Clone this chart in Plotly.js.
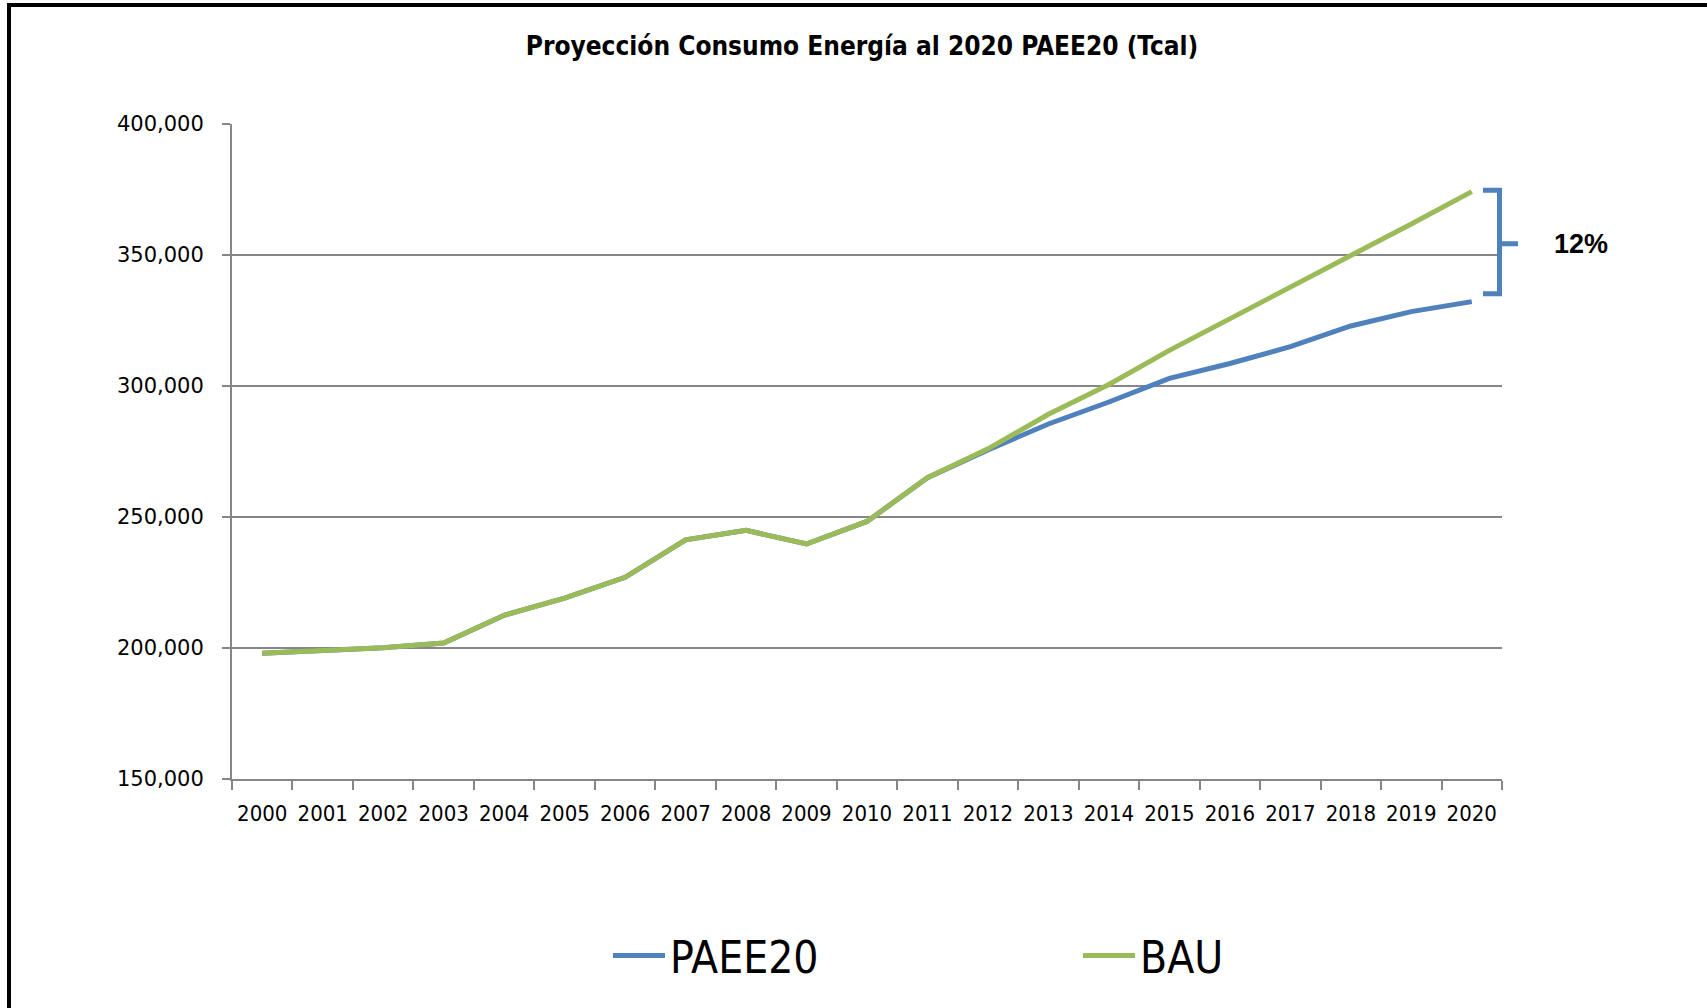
<!DOCTYPE html>
<html>
<head>
<meta charset="utf-8">
<script src="https://cdn.plot.ly/plotly-3.0.1.min.js"></script>
<style>
  html, body { margin: 0; padding: 0; background: #ffffff; }
  #wrap { position: relative; width: 1707px; height: 1008px; overflow: hidden; }
  #chart { position: absolute; left: 0; top: 0; width: 1707px; height: 1008px; }
  #frame { position: absolute; left: 7px; top: 3px; right: -10px; bottom: -10px;
           border-top: 4px solid #000; border-left: 4px solid #000; pointer-events: none; }
</style>
</head>
<body>
<div id="wrap">
  <div id="chart"></div>
  <div id="frame"></div>
</div>
<script>
// ---- data (Tcal) ----
const years = ["2000","2001","2002","2003","2004","2005","2006","2007","2008","2009","2010",
               "2011","2012","2013","2014","2015","2016","2017","2018","2019","2020"];
const paee20 = [198000,198900,200100,201900,212500,219000,227000,241300,244900,239700,248300,
                265000,275600,285500,293900,302900,308600,315000,322900,328400,332200];
const bau    = [198000,198900,200100,201900,212500,219000,227000,241300,244900,239700,248300,
                265000,276000,289200,300600,313600,325500,337500,349800,361800,374200];
const seriesNames = ["PAEE20", "BAU"];
const chartTitle = "Proyección Consumo Energía al 2020 PAEE20 (Tcal)";
const gapLabel = "12%";

const BLUE = "#4F81BD", GREEN = "#9BBB59", GRID = "#868686";
const NARROW = "'Liberation Sans Narrow', 'DejaVu Sans Condensed', 'Arial Narrow', sans-serif";

const traces = [
  { x: years, y: paee20, name: seriesNames[0], type: "scatter", mode: "lines",
    line: { color: BLUE, width: 5 } },
  { x: years, y: bau, name: seriesNames[1], type: "scatter", mode: "lines",
    line: { color: GREEN, width: 5 } }
];

const W = 1707, H = 1008;
const L = 232, R = 1502, T = 124, B = 779;
const px = v => (v - L) / (R - L);           // pixel -> paper x

const last = years.length - 1;
const bTop = bau[last] + 500, bBot = paee20[last] + 3000, bMid = (bTop + bBot) / 2 - 700;
const bracketPath = `M${px(1483)},${bTop} L${px(1499.5)},${bTop} L${px(1499.5)},${bBot} L${px(1483)},${bBot} ` +
                    `M${px(1499.5)},${bMid} L${px(1518)},${bMid}`;

const layout = {
  width: W, height: H,
  margin: { l: L, r: W - R, t: T, b: H - B, pad: 0 },
  paper_bgcolor: "#ffffff", plot_bgcolor: "#ffffff",
  showlegend: true,
  title: {
    text: chartTitle,
    font: { family: NARROW, size: 26, color: "#000", weight: "bold" },
    xref: "container", x: 862 / W, xanchor: "center",
    yref: "container", y: 1 - 46 / H, yanchor: "middle"
  },
  xaxis: {
    type: "category", range: [-0.5, 20.5],
    showline: true, linecolor: GRID, linewidth: 2,
    showgrid: false, zeroline: false,
    ticks: "outside", tickson: "boundaries", ticklen: 9, tickwidth: 2, tickcolor: GRID,
    tickangle: 0, ticklabelstandoff: 14,
    tickfont: { family: NARROW, size: 22, color: "#000" }
  },
  yaxis: {
    range: [150000, 400000], dtick: 50000, tick0: 150000, tickformat: ",d",
    showline: true, linecolor: GRID, linewidth: 2,
    showgrid: true, gridcolor: GRID, gridwidth: 2, zeroline: false,
    ticks: "outside", ticklen: 8, tickwidth: 2, tickcolor: GRID,
    ticklabelstandoff: 14,
    tickfont: { family: "'DejaVu Sans', Verdana, sans-serif", size: 21, color: "#000" }
  },
  legend: {
    orientation: "h",
    xref: "container", x: 608 / W, xanchor: "left",
    yref: "container", y: 1 - 956 / H, yanchor: "middle",
    bgcolor: "rgba(0,0,0,0)",
    font: { family: NARROW, size: 44, color: "#000" },
    itemwidth: 52,
    entrywidth: 403, entrywidthmode: "pixels",
    traceorder: "normal"
  },
  shapes: [
    { type: "path", xref: "paper", yref: "y", path: bracketPath,
      line: { color: BLUE, width: 5 } }
  ],
  annotations: [
    { text: gapLabel, showarrow: false, xref: "paper", yref: "y",
      x: px(1581), y: bMid, xanchor: "center", yanchor: "middle",
      font: { family: "'Liberation Sans', Arial, sans-serif", size: 27, color: "#000", weight: "bold" } }
  ]
};

Plotly.newPlot("chart", traces, layout, { staticPlot: true, displayModeBar: false });
</script>
</body>
</html>
